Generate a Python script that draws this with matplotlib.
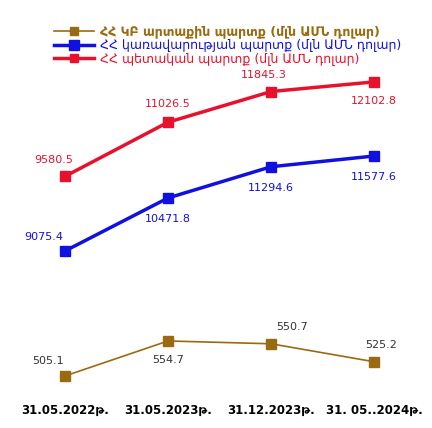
import matplotlib
matplotlib.use("Agg")
import matplotlib.pyplot as plt
from matplotlib.lines import Line2D

dates = ["31.05.2022թ.", "31.05.2023թ.", "31.12.2023թ.", "31. 05..2024թ."]
cb_debt = [505.1, 554.7, 550.7, 525.2]
gov_debt = [9075.4, 10471.8, 11294.6, 11577.6]
state_debt = [9580.5, 11026.5, 11845.3, 12102.8]
names = ["ՀՀ ԿԲ արտաքին պարտք (մլն ԱՄՆ դոլար)",
         "ՀՀ կառավարության պարտք (մլն ԱՄՆ դոլար)",
         "ՀՀ պետական պարտք (մլն ԱՄՆ դոլար)"]

plt.rcParams['font.family'] = ['DejaVu Sans']
fig = plt.figure(figsize=(4.32, 4.28), dpi=100)
x = list(range(len(dates)))
xlim = (-0.63, 3.56)

def mk(ylim):
    ax = fig.add_axes([0, 0, 1, 1], zorder=2)
    ax.patch.set_alpha(0)
    ax.set_xlim(*xlim); ax.set_ylim(*ylim); ax.axis('off')
    return ax

c_red, c_blue, c_brown = "#e8112d", "#1010e0", "#9a6a10"
ax_r = mk((2865, 14288))
ax_b = mk((4413, 15686))
ax_c = mk((431.4, 1037.7))

ax_r.plot(x, state_debt, color=c_red, lw=2.5, marker='s', ms=7)
ax_b.plot(x, gov_debt, color=c_blue, lw=2.5, marker='s', ms=7)
ax_c.plot(x, cb_debt, color=c_brown, lw=1.2, marker='s', ms=7)

r_off = [(-8, 12), (0, 13), (-5, 12), (0, -14)]
b_off = [(-15, 10), (0, -15), (0, -15), (0, -15)]
c_off = [(-12, 11), (0, -14), (15, 12), (5, 12)]
for i in x:
    ax_r.annotate(f"{state_debt[i]}", (i, state_debt[i]), xytext=r_off[i], textcoords='offset points',
                  ha='center', va='center', color=c_red, fontsize=8)
    ax_b.annotate(f"{gov_debt[i]}", (i, gov_debt[i]), xytext=b_off[i], textcoords='offset points',
                  ha='center', va='center', color=c_blue, fontsize=8)
    ax_c.annotate(f"{cb_debt[i]}", (i, cb_debt[i]), xytext=c_off[i], textcoords='offset points',
                  ha='center', va='center', color="#333333", fontsize=8)
    ax_r.text(i, 1 - 410/428, dates[i], transform=ax_r.get_xaxis_transform(),
              ha='center', va='center', fontsize=8.5, fontweight='bold', color='black')

handles = [Line2D([], [], color=c_brown, lw=1.2, marker='s', ms=6),
           Line2D([], [], color=c_blue, lw=2.5, marker='s', ms=7),
           Line2D([], [], color=c_red, lw=2.5, marker='s', ms=6)]
leg = fig.legend(handles, names, loc='upper left', bbox_to_anchor=(0.11, 0.955), frameon=False,
                 fontsize=9, handlelength=3.2, labelspacing=0.05, borderpad=0, handletextpad=0.5)
for t, c in zip(leg.get_texts(), [c_brown, c_blue, c_red]):
    t.set_color(c)
leg.get_texts()[0].set_fontweight('bold')
fig.savefig("out.png", dpi=100)
